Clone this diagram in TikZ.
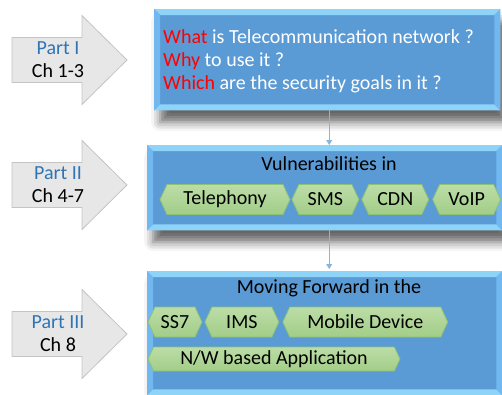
\documentclass[tikz,border=0pt]{standalone}
\usepackage{fontspec}
\setmainfont{Carlito}
\usetikzlibrary{shapes.symbols,shadows.blur,positioning,arrows.meta}

\definecolor{boxblue}{HTML}{5B9BD5}
\definecolor{bevellight}{HTML}{8ED3F8}
\definecolor{bevelside}{HTML}{72B8F0}
\definecolor{chevtop}{HTML}{BCDDA6}
\definecolor{chevbottom}{HTML}{A2CD88}
\definecolor{chevline}{HTML}{8DC173}
\definecolor{partblue}{HTML}{2E75B6}
\definecolor{arrowgray}{HTML}{E8E7E7}
\definecolor{arrowline}{HTML}{C4C4C4}
\definecolor{linkblue}{HTML}{8DB3DC}

\newcommand{\bevelbox}[1]{%
  \fill[bevellight] (#1.north west) -- (#1.north east) -- ([xshift=-6pt,yshift=-6pt]#1.north east) -- ([xshift=6pt,yshift=-6pt]#1.north west) -- cycle;
  \fill[bevellight] (#1.south west) -- (#1.south east) -- ([xshift=-6pt,yshift=6pt]#1.south east) -- ([xshift=6pt,yshift=6pt]#1.south west) -- cycle;
  \fill[bevelside] (#1.north west) -- ([xshift=6pt,yshift=-6pt]#1.north west) -- ([xshift=6pt,yshift=6pt]#1.south west) -- (#1.south west) -- cycle;
  \fill[bevelside] (#1.north east) -- ([xshift=-6pt,yshift=-6pt]#1.north east) -- ([xshift=-6pt,yshift=6pt]#1.south east) -- (#1.south east) -- cycle;
}

\tikzset{
  bigfont/.style={font=\fontsize{20}{23}\selectfont},
  topicbox/.style={fill=boxblue, inner sep=0pt, anchor=north west,
    blur shadow={shadow xshift=6pt, shadow yshift=-12pt, shadow blur radius=9pt, shadow opacity=60}},
  partarrow/.style={fill=arrowgray, draw=arrowline, line width=0.8pt},
  parttext/.style={bigfont, align=center, inner sep=0pt},
  qtext/.style={bigfont, text=white, anchor=west, inner sep=0pt},
  title/.style={bigfont, inner sep=0pt},
  chevron/.style={signal, signal to=west and east, signal pointer angle=130,
    top color=chevtop, bottom color=chevbottom, draw=chevline, line width=0.8pt,
    inner sep=0pt, minimum height=30pt, bigfont},
  link/.style={draw=linkblue, line width=0.8pt, -{Triangle[width=6pt,length=5pt]}}
}

\begin{document}
\begin{tikzpicture}[x=1pt,y=-1pt]
\useasboundingbox (0,0) rectangle (502,394);

% part arrows
\foreach \y/\part/\ch/\nm in {60/I/1-3/one, 185/II/4-7/two, 334/III/8/three} {
  \draw[partarrow] (12,\y-22.5) -- (82,\y-22.5) -- (82,\y-44.5) -- (127,\y)
    -- (82,\y+44.5) -- (82,\y+22.5) -- (12,\y+22.5) -- cycle;
  \node[parttext] (part\nm) at (58,\y) {\textcolor{partblue}{Part \part}\\Ch \ch};
}

% topic boxes
\node[topicbox, minimum width=346pt, minimum height=101pt] (goals) at (154,9) {};
\node[topicbox, minimum width=355pt, minimum height=85pt] (vuln) at (147,145) {};
\node[topicbox, minimum width=355pt, minimum height=124pt] (forward) at (147,271) {};
\bevelbox{goals}
\bevelbox{vuln}
\bevelbox{forward}

% connectors
\draw[link] ([xshift=2pt]goals.south) -- ([xshift=2pt]goals.south |- vuln.north);
\draw[link] ([xshift=4.5pt]vuln.south) -- ([xshift=4.5pt,yshift=2pt]vuln.south |- forward.north);

% Part I
\node[qtext] (what) at (163,37) {\textcolor{red}{What} is Telecommunication network ?};
\node[qtext] (why) at (163,61) {\textcolor{red}{Why} to use it ?};
\node[qtext] (which) at (163,84) {\textcolor{red}{Which} are the security goals in it ?};

% Part II
\node[title] (vulntitle) at (329,164) {Vulnerabilities in};
\node[chevron, minimum width=130pt] (telephony) at (225,199.5) {Telephony};
\node[chevron, minimum width=67pt, right=1pt of telephony] (sms) {SMS};
\node[chevron, minimum width=67pt, right=2pt of sms] (cdn) {CDN};
\node[chevron, minimum width=68pt, right=3pt of cdn] (voip) {VoIP};

% Part III
\node[title] (fwdtitle) at (329,288) {Moving Forward in the};
\node[chevron, minimum width=54pt] (ss7) at (175,322) {SS7};
\node[chevron, minimum width=74pt, right=2pt of ss7] (ims) {IMS};
\node[chevron, minimum width=165pt, right=3pt of ims] (mobile) {Mobile Device};
\node[chevron, minimum width=252pt, minimum height=24pt] (nwapp) at (274,359) {N/W based Application};
\end{tikzpicture}
\end{document}
